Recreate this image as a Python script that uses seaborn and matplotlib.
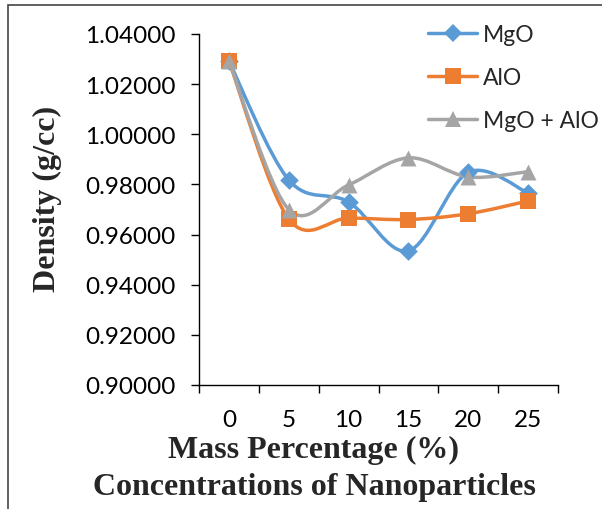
import numpy as np
import pandas as pd
import seaborn as sns
import matplotlib.pyplot as plt
from matplotlib.path import Path
from matplotlib.patches import PathPatch, Rectangle
from matplotlib.lines import Line2D

# values
concentrations = ["0", "5", "10", "15", "20", "25"]
mgo = [1.0292, 0.9818, 0.9730, 0.9535, 0.9848, 0.9766]
alo = [1.0292, 0.9662, 0.9666, 0.9660, 0.9683, 0.9734]
mgo_alo = [1.0292, 0.9700, 0.9798, 0.9906, 0.9830, 0.9851]
series_names = ["MgO", "AlO", "MgO + AlO"]

COLORS = {"MgO": "#5B9BD5", "AlO": "#ED7D31", "MgO + AlO": "#A5A5A5"}
MARKERS = {"MgO": "D", "AlO": "s", "MgO + AlO": "^"}
MSIZE = {"MgO": 9.5, "AlO": 11.5, "MgO + AlO": 11.5}

TICK_FONT = "Lato"
LABEL_FONT = "Liberation Serif"


def smooth_path(xs, ys):
    # Excel style smoothed line: cubic bezier segments (catmull-rom control points)
    pts = np.column_stack([xs, ys])
    ext = np.vstack([pts[0], pts, pts[-1]])
    verts = [pts[0]]
    codes = [Path.MOVETO]
    for i in range(1, len(ext) - 2):
        p0, p1, p2, p3 = ext[i - 1], ext[i], ext[i + 1], ext[i + 2]
        verts += [p1 + (p2 - p0) / 6, p2 - (p3 - p1) / 6, p2]
        codes += [Path.CURVE4] * 3
    return Path(verts, codes)


def main():
    df = pd.DataFrame(
        {
            "pos": list(range(len(concentrations))) * 3,
            "density": mgo + alo + mgo_alo,
            "series": np.repeat(series_names, len(concentrations)),
        }
    )

    sns.set_theme(style="white")
    fig = plt.figure(figsize=(6.02, 5.10), dpi=100)
    ax = fig.add_axes([199 / 602, 1 - 386 / 510, 359 / 602, 351 / 510])

    # smooth connecting curves
    for name in series_names:
        sub = df[df["series"] == name]
        ax.add_patch(
            PathPatch(
                smooth_path(sub["pos"].values, sub["density"].values),
                facecolor="none",
                edgecolor=COLORS[name],
                lw=2.5,
                capstyle="round",
                joinstyle="round",
                zorder=2,
            )
        )

    # markers
    for name in series_names:
        sub = df[df["series"] == name]
        sns.scatterplot(
            data=sub,
            x="pos",
            y="density",
            ax=ax,
            color=COLORS[name],
            marker=MARKERS[name],
            s=MSIZE[name] ** 2,
            linewidth=0,
            zorder=3,
            legend=False,
        )

    ax.set_xlim(-0.5, len(concentrations) - 0.5)
    ax.set_ylim(0.9, 1.04)
    ax.set_yticks(np.arange(0.90, 1.0401, 0.02))
    ax.set_yticklabels([f"{v:.5f}" for v in np.arange(0.90, 1.0401, 0.02)])
    ax.set_xticks(range(len(concentrations)))
    ax.set_xticklabels(concentrations)
    ax.set_xticks(np.arange(-0.5, len(concentrations), 1.0), minor=True)

    for side in ["top", "right"]:
        ax.spines[side].set_visible(False)
    for side in ["left", "bottom"]:
        ax.spines[side].set_color("black")
        ax.spines[side].set_linewidth(1.0)

    ax.tick_params(axis="y", which="major", left=True, length=6, width=1,
                   color="black", pad=11, labelsize=17.5)
    ax.tick_params(axis="x", which="major", bottom=False, pad=11, labelsize=17.5)
    ax.tick_params(axis="x", which="minor", bottom=True, length=6, width=1,
                   color="black")
    for lab in ax.get_xticklabels() + ax.get_yticklabels():
        lab.set_fontfamily(TICK_FONT)
        lab.set_color("black")

    ax.set_xlabel("")
    ax.set_ylabel("")
    fig.text(47 / 602, 1 - 199 / 510, "Density (g/cc)", rotation=90,
             ha="center", va="center", fontsize=23, fontweight="bold",
             family=LABEL_FONT)
    fig.text(314 / 602, 1 - 450 / 510, "Mass Percentage (%)", ha="center",
             va="center", fontsize=23, fontweight="bold", family=LABEL_FONT)
    fig.text(314 / 602, 1 - 488 / 510, "Concentrations of Nanoparticles",
             ha="center", va="center", fontsize=23, fontweight="bold",
             family=LABEL_FONT)

    handles = [
        Line2D([], [], color=COLORS[n], lw=2.5, marker=MARKERS[n],
               markersize=MSIZE[n], markeredgewidth=0)
        for n in series_names
    ]
    fig.legend(
        handles,
        series_names,
        loc="upper left",
        bbox_to_anchor=(428 / 602, 1 - 25 / 510),
        frameon=False,
        handlelength=2.15,
        handletextpad=0.25,
        labelspacing=0.95,
        borderaxespad=0,
        borderpad=0,
        prop={"family": TICK_FONT, "size": 16.5},
    )

    # outer chart frame
    fig.patches.append(
        Rectangle((8 / 602, -0.1), 1.2, 1 - 6 / 510 + 0.1,
                  transform=fig.transFigure, fill=False,
                  edgecolor="#444444", lw=1.2)
    )

    fig.savefig("out.png", dpi=100)


if __name__ == "__main__":
    main()
